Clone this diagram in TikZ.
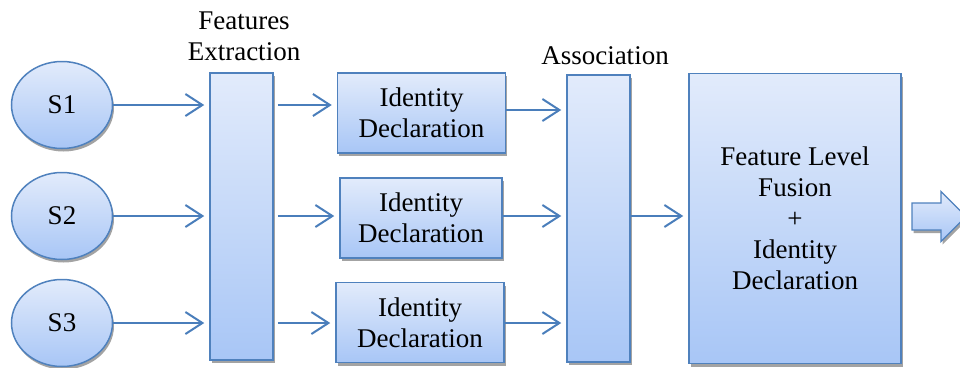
\documentclass[tikz,border=0pt]{standalone}
\usepackage{fontspec}
\setmainfont{Liberation Serif}
\usetikzlibrary{shapes.geometric,shadows,arrows.meta}
\definecolor{edgeblue}{RGB}{79,129,189}
\definecolor{linkblue}{RGB}{74,126,187}
\definecolor{filltop}{RGB}{226,235,251}
\definecolor{fillbot}{RGB}{168,198,246}
\begin{document}
\begin{tikzpicture}[x=1pt,y=-1pt,
  font=\fontsize{27}{31}\selectfont,
  shaded/.style={draw=edgeblue,line width=1.5pt,top color=filltop,bottom color=fillbot,
    drop shadow={shadow xshift=1.5pt,shadow yshift=-3pt,fill=black!45,opacity=0.8}},
  source/.style={shaded,ellipse,minimum width=101pt,minimum height=87pt,inner sep=0pt},
  bar/.style={shaded,rectangle,inner sep=0pt,minimum width=63pt,minimum height=287pt},
  idbox/.style={shaded,rectangle,align=center,inner sep=0pt,minimum width=168pt,minimum height=80pt},
  link/.style={draw=linkblue,line width=2pt,-{Straight Barb[length=17pt,width=22pt]},shorten >=5pt},
  caption/.style={align=center}]
\useasboundingbox (0,0) rectangle (960,367);

% sources
\node[source] (s1) at (62,105) {S1};
\node[source] (s2) at (62,216) {S2};
\node[source] (s3) at (62,323) {S3};

% feature extraction stage
\node[bar] (fe) at (241.5,216.5) {};
\node[caption] (fecap) at (244,36) {Features\\Extraction};

% per-source identity declarations
\node[idbox] (id1) at (421.5,113) {Identity\\Declaration};
\node[idbox,minimum width=162pt] (id2) at (421,218) {Identity\\Declaration};
\node[idbox] (id3) at (420,322.5) {Identity\\Declaration};

% association stage
\node[bar] (as) at (598.5,218.5) {};
\node[caption] (ascap) at (605,56) {Association};

% fusion block
\node[shaded,rectangle,align=center,inner sep=0pt,minimum width=212pt,minimum height=290pt]
  (fus) at (795,218.5) {Feature Level\\Fusion\\+\\Identity\\Declaration};

% output block arrow
\coordinate (out) at (912,216.5);
\path[shaded,line width=1.3pt,line join=miter]
  (out) ++(0,-13.5) -- ++(29,0) -- ++(0,-11.5) -- ++(25,25)
  -- ++(-25,25) -- ++(0,-11.5) -- ++(-29,0) -- cycle;

% connectors
\coordinate (r1) at ([yshift=3pt]id1.east);
\draw[link] (s1.east) -- (fe.west |- s1);
\draw[link,shorten <=4pt] (fe.east |- s1) -- (id1.west |- s1);
\draw[link] (r1) -- (as.west |- r1);

\draw[link] (s2.east) -- (fe.west |- s2);
\draw[link,shorten <=4pt] (fe.east |- s2) -- (id2.west |- s2);
\draw[link] (id2.east |- s2) -- (as.west |- s2);
\draw[link] (as.east |- s2) -- (fus.west |- s2);

\draw[link] (s3.east) -- (fe.west |- s3);
\draw[link,shorten <=4pt] (fe.east |- s3) -- (id3.west |- s3);
\draw[link] (id3.east |- s3) -- (as.west |- s3);
\end{tikzpicture}
\end{document}
